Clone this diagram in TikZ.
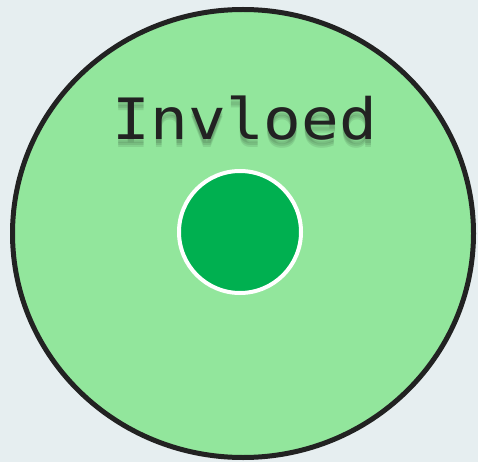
\documentclass[tikz,border=0pt]{standalone}
\usepackage{fontspec}
\usepackage{tikz}
\usetikzlibrary{
  shapes.geometric,
  positioning
}
\newfontfamily\ivMono{DejaVu Sans Mono}
\definecolor{ivBack}{HTML}{E6EEF0}
\definecolor{ivZone}{HTML}{92E69C}
\definecolor{ivEdge}{HTML}{222222}
\definecolor{ivDot}{HTML}{00B050}
\newcommand{\ivWide}[1]{\scalebox{1.1}[1]{#1}}
\tikzset{
  zone/.style={
    draw=ivEdge, fill=ivZone, ellipse, line width=5pt, inner sep=0pt
  },
  dot/.style={
    draw=white, fill=ivDot, circle, line width=4pt, inner sep=0pt,
    minimum size=122pt
  },
  title/.style={font=\ivMono\fontsize{57}{57}\selectfont, text=ivEdge, inner sep=0pt},
  shade/.style={title, text=black, opacity=0.09}
}

\begin{document}
\begin{tikzpicture}[x=1pt, y=-1pt]
  \fill[ivBack] (0,0) rectangle (478,462);
  \useasboundingbox (0,0) rectangle (478,462);
  \node[zone, minimum width=461pt, minimum height=448pt] (ring) at (243,233.5) {};
  \node[dot] (core) at (240,232) {};
  % soft shadow under the label
  \foreach \dy in {4,6,8}
    \node[shade, anchor=base] at (245,140+\dy) {\ivWide{Invloed}};
  \node[title, anchor=base] (label) at (245,140) {\ivWide{Invloed}};
\end{tikzpicture}
\end{document}
